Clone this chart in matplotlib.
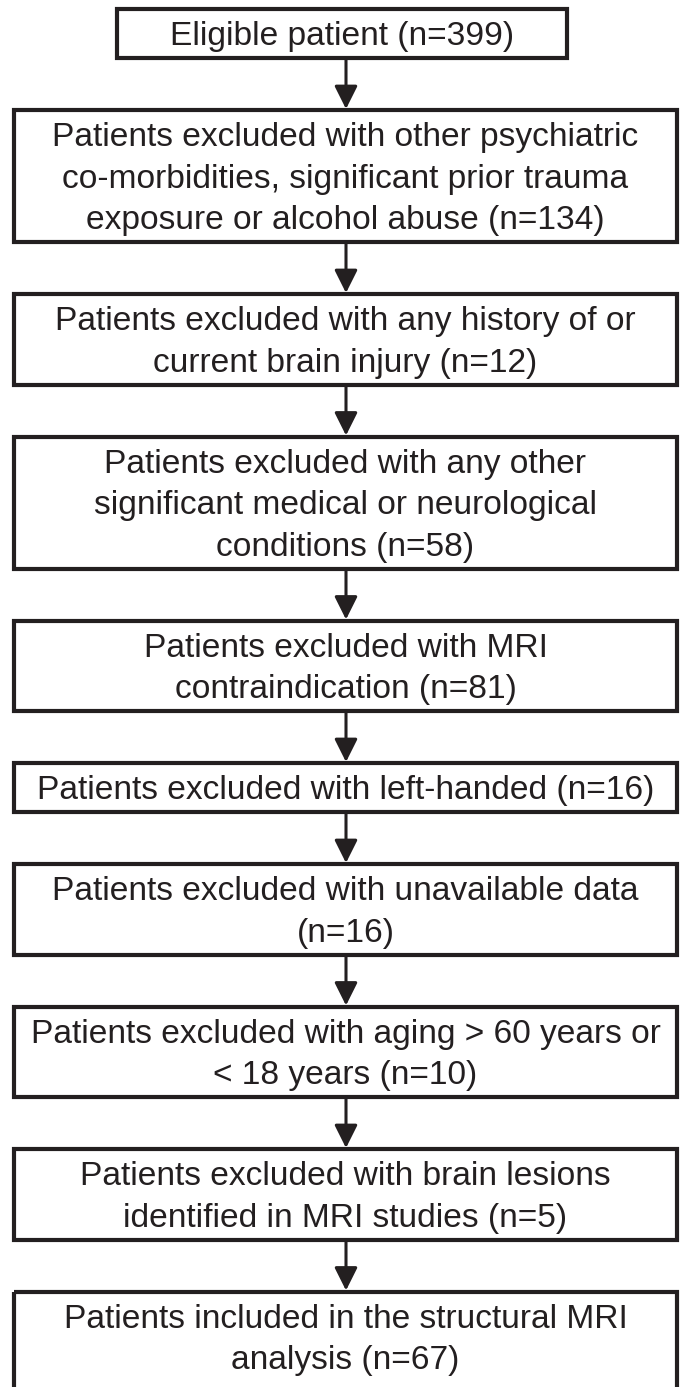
import matplotlib
matplotlib.use("Agg")
import matplotlib.pyplot as plt
from matplotlib.patches import Rectangle

# ---- content ----
labels = [
    "Eligible patient (n=399)",
    "Patients excluded with other psychiatric\nco-morbidities, significant prior trauma\nexposure or alcohol abuse (n=134)",
    "Patients excluded with any history of or\ncurrent brain injury (n=12)",
    "Patients excluded with any other\nsignificant medical or neurological\nconditions (n=58)",
    "Patients excluded with MRI\ncontraindication (n=81)",
    "Patients excluded with left-handed (n=16)",
    "Patients excluded with unavailable data\n(n=16)",
    "Patients excluded with aging > 60 years or\n< 18 years (n=10)",
    "Patients excluded with brain lesions\nidentified in MRI studies (n=5)",
    "Patients included in the structural MRI\nanalysis (n=67)",
]

# ---- layout (pixels) ----
W, H = 684, 1387
DPI = 100
top0 = 9
gap = 52
h_one = 49
pitch = 41.5
wide_x = (14, 677)
first_x = (117, 567)
font_pt = 24.1
ink = "#231f20"

fig = plt.figure(figsize=(W / DPI, H / DPI), dpi=DPI)
ax = fig.add_axes([0, 0, 1, 1])
ax.set_xlim(0, W)
ax.set_ylim(H, 0)
ax.axis("off")

font_px = font_pt * DPI / 72
cap = 0.716 * font_px

y = top0
boxes = []
for i, lab in enumerate(labels):
    lines = lab.split("\n")
    n = len(lines)
    h = h_one + pitch * (n - 1)
    x0, x1 = first_x if i == 0 else wide_x
    draw_h = h if i < len(labels) - 1 else h + 20
    ax.add_patch(Rectangle((x0, y), x1 - x0, draw_h, fill=False,
                           edgecolor=ink, lw=3.0, joinstyle="miter"))
    cy = y + h / 2
    for j, ln in enumerate(lines):
        ly = cy + (j - (n - 1) / 2) * pitch + cap / 2
        ax.text((x0 + x1) / 2, ly, ln, ha="center", va="baseline",
                fontsize=font_pt, color=ink, family=["Liberation Sans", "DejaVu Sans"])
    boxes.append((y, y + h))
    y = y + h + gap

xc = 346
for (t0, b0), (t1, b1) in zip(boxes[:-1], boxes[1:]):
    ax.annotate("", xy=(xc, t1 - 1), xytext=(xc, b0 + 1),
                arrowprops=dict(arrowstyle="-|>,head_length=0.4,head_width=0.2",
                                mutation_scale=35, lw=2.2, color=ink,
                                shrinkA=0, shrinkB=0))

fig.savefig("out.png", dpi=DPI, facecolor="white")
